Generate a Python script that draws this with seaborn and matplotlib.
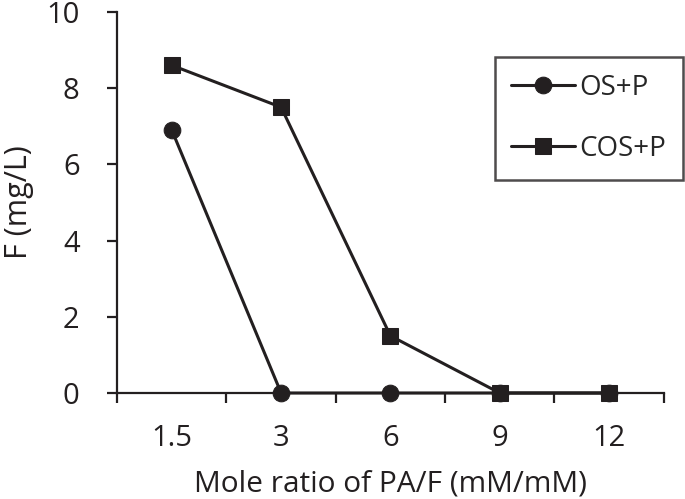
import matplotlib
matplotlib.use("Agg")
import matplotlib.pyplot as plt
import seaborn as sns
import pandas as pd
import numpy as np

# data
ratios = ["1.5", "3", "6", "9", "12"]
os_p = [6.9, 0, 0, 0, 0]
cos_p = [8.6, 7.5, 1.5, 0, 0]

df = pd.DataFrame({
    "pos": list(range(len(ratios))) * 2,
    "F": os_p + cos_p,
    "series": ["OS+P"] * len(ratios) + ["COS+P"] * len(ratios),
})

ink = "#231f20"
sns.set_style("white")
plt.rcParams["font.family"] = ["Open Sans", "DejaVu Sans"]

fig = plt.figure(figsize=(6.85, 4.99), dpi=100)
ax = fig.add_axes([0.171, 0.2124, 0.798, 0.7636])

sns.lineplot(data=df, x="pos", y="F", style="series", markers={"OS+P": "o", "COS+P": "s"},
             dashes=False, color=ink, linewidth=2.2, markersize=12,
             markeredgecolor=ink, clip_on=False, ax=ax)

ax.set_xlim(-0.5, len(ratios) - 0.5)
ax.set_ylim(0, 10)
ax.set_yticks([0, 2, 4, 6, 8, 10])
ax.set_xticks(range(len(ratios)))
ax.set_xticklabels(ratios)
ax.set_xticks(np.arange(-0.5, len(ratios), 1), minor=True)
ax.tick_params(axis="x", which="major", bottom=True, length=0, labelsize=21, pad=22,
               labelcolor=ink)
ax.tick_params(axis="x", which="minor", bottom=True, length=7, width=1.6, direction="out",
               color=ink)
ax.tick_params(axis="y", left=True, length=7, width=1.6, direction="out", labelsize=21,
               color=ink, labelcolor=ink, pad=20)

for s in ["top", "right"]:
    ax.spines[s].set_visible(False)
for s in ["left", "bottom"]:
    ax.spines[s].set_color(ink)
    ax.spines[s].set_linewidth(1.6)

ax.set_xlabel("Mole ratio of PA/F (mM/mM)", fontsize=21.5, color=ink, labelpad=12)
ax.set_ylabel("F (mg/L)", fontsize=22, color=ink, labelpad=9)

leg = ax.legend(loc="upper right", bbox_to_anchor=(1.035, 0.882), borderaxespad=0,
                fontsize=20, frameon=True, fancybox=False, edgecolor=ink,
                handlelength=2.3, labelspacing=1.2, borderpad=0.6, handletextpad=0.15)
leg.get_frame().set_linewidth(1.8)

fig.savefig("out.png", dpi=100)
